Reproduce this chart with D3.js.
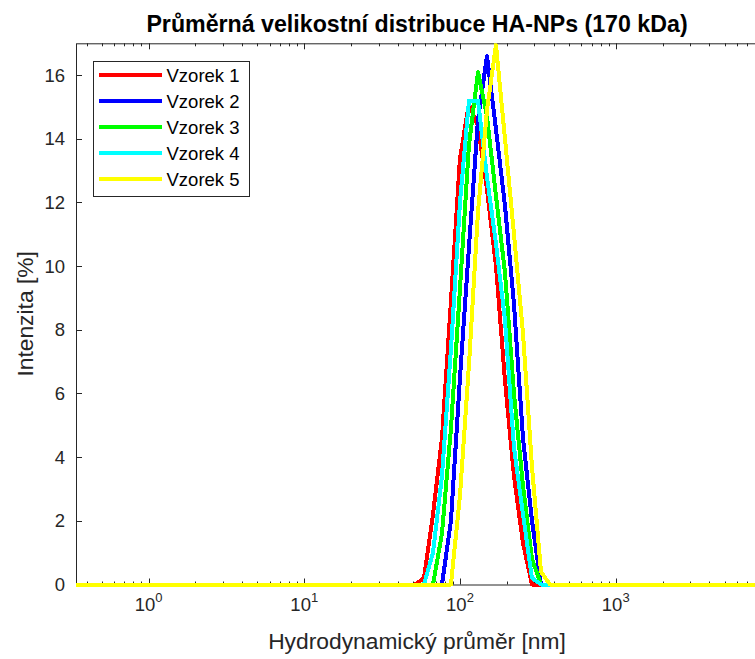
<!DOCTYPE html>
<html>
<head>
<meta charset="utf-8">
<script src="https://cdn.jsdelivr.net/npm/d3@7/dist/d3.min.js"></script>
<style>
	body { margin: 0; background: #fff; }
	svg { font-family: "Liberation Sans", Arial, Helvetica, sans-serif; }
</style>
</head>
<body>
<div id="chart"></div>
<script>
// hydrodynamic diameter [nm]
var sizes = [0.342, 51.4, 58.7, 67.1, 76.6, 87.5, 100, 114.2, 130.5, 149.1, 170.3, 194.5, 222.2, 253.8, 290.0, 331.3, 378.4, 8200];

// intensity [%] per sample
var vzorek1 = [0, 0, 0.2, 2.2, 4.6, 8.9, 13.4, 15.1, 14.4, 12.4, 10.0, 6.4, 3.4, 1.3, 0, 0, 0, 0];
var vzorek2 = [0, 0, 0, 0, 0, 2.0, 6.5, 10.6, 14.6, 16.6, 14.3, 11.9, 8.8, 4.6, 2.0, 0, 0, 0];
var vzorek3 = [0, 0, 0, 0, 1.6, 4.9, 9.3, 13.8, 16.1, 14.7, 12.2, 9.8, 6.0, 3.1, 0.8, 0, 0, 0];
var vzorek4 = [0, 0, 0, 1.0, 3.4, 7.4, 12.0, 15.2, 15.2, 12.8, 10.7, 8.3, 4.3, 2.2, 0.2, 0, 0, 0];
var vzorek5 = [0, 0, 0, 0, 0, 0, 2.8, 6.9, 11.7, 14.9, 16.95, 14.0, 11.0, 7.9, 3.7, 0.4, 0, 0];

var seriesNames = ["Vzorek 1", "Vzorek 2", "Vzorek 3", "Vzorek 4", "Vzorek 5"];
var seriesValues = [vzorek1, vzorek2, vzorek3, vzorek4, vzorek5];
var seriesColors = ["#ff0000", "#0000ff", "#00ff00", "#00ffff", "#ffff00"];

var xMajorTicks = [1, 10, 100, 1000];
var xTickExponents = ["0", "1", "2", "3"];
var yTicks = [0, 2, 4, 6, 8, 10, 12, 14, 16];

var xDomain = [0.342, 8200];
var yDomain = [0, 17];

var titleText = "Průměrná velikostní distribuce HA-NPs (170 kDa)";
var xLabelText = "Hydrodynamický průměr [nm]";
var yLabelText = "Intenzita [%]";

(function () {
	var width = 755, height = 659;
	var pLeft = 76, pTop = 43.3, pRight = 758, pBottom = 584.5;
	var axisColor = "#262626";

	var svg = d3.select("#chart")
		.append("svg")
		.attr("width", width)
		.attr("height", height);

	var x = d3.scaleLog().domain(xDomain).range([pLeft, pRight]);
	var y = d3.scaleLinear().domain(yDomain).range([pBottom, pTop]);

	// lines may spill past the bottom edge by their own width, like MATLAB
	svg.append("defs").append("clipPath")
		.attr("id", "plot-clip")
		.append("rect")
		.attr("x", pLeft)
		.attr("y", pTop)
		.attr("width", pRight - pLeft)
		.attr("height", pBottom - pTop + 3);

	// axes box
	svg.append("rect")
		.attr("x", pLeft + 0.5)
		.attr("y", pTop + 0.5)
		.attr("width", pRight - pLeft)
		.attr("height", pBottom - pTop)
		.attr("fill", "none")
		.attr("stroke", axisColor)
		.attr("stroke-width", 1);

	// x ticks, MATLAB style: inward, on bottom and top
	var allX = x.ticks().filter(function (d) { return d >= xDomain[0] && d <= xDomain[1]; });
	allX.forEach(function (d) {
		var major = xMajorTicks.indexOf(d) >= 0;
		var len = major ? 6 : 3;
		var px = Math.round(x(d)) + 0.5;
		svg.append("line")
			.attr("x1", px).attr("x2", px)
			.attr("y1", pBottom).attr("y2", pBottom - len)
			.attr("stroke", axisColor).attr("stroke-width", 1);
		svg.append("line")
			.attr("x1", px).attr("x2", px)
			.attr("y1", pTop).attr("y2", pTop + len)
			.attr("stroke", axisColor).attr("stroke-width", 1);
	});

	xMajorTicks.forEach(function (d, i) {
		var t = svg.append("text")
			.attr("x", x(d))
			.attr("y", 611)
			.attr("text-anchor", "middle")
			.attr("fill", axisColor)
			.attr("font-size", "18.5px")
			.text("10");
		t.append("tspan")
			.attr("dy", -9)
			.attr("font-size", "13px")
			.text(xTickExponents[i]);
	});

	yTicks.forEach(function (d) {
		var py = Math.round(y(d)) + 0.5;
		svg.append("line")
			.attr("x1", pLeft).attr("x2", pLeft + 6)
			.attr("y1", py).attr("y2", py)
			.attr("stroke", axisColor).attr("stroke-width", 1);
		svg.append("text")
			.attr("x", 65)
			.attr("y", y(d) + 6.6)
			.attr("text-anchor", "end")
			.attr("fill", axisColor)
			.attr("font-size", "18.5px")
			.text(d);
	});

	// curves
	var line = d3.line()
		.x(function (d) { return x(d[0]); })
		.y(function (d) { return y(d[1]); });

	var plot = svg.append("g").attr("clip-path", "url(#plot-clip)");
	seriesValues.forEach(function (vals, i) {
		plot.append("path")
			.datum(d3.zip(sizes, vals))
			.attr("d", line)
			.attr("fill", "none")
			.attr("stroke", seriesColors[i])
			.attr("stroke-width", 4)
			.attr("stroke-linejoin", "round")
			.attr("shape-rendering", "crispEdges");
	});

	// legend
	var legend = svg.append("g");
	legend.append("rect")
		.attr("x", 93.5)
		.attr("y", 61.5)
		.attr("width", 156)
		.attr("height", 135)
		.attr("fill", "#fff")
		.attr("stroke", axisColor)
		.attr("stroke-width", 1);
	seriesNames.forEach(function (name, i) {
		var ry = 75.3 + i * 25.9;
		legend.append("line")
			.attr("x1", 99).attr("x2", 162)
			.attr("y1", ry).attr("y2", ry)
			.attr("stroke", seriesColors[i])
			.attr("stroke-width", 4)
			.attr("shape-rendering", "crispEdges");
		legend.append("text")
			.attr("x", 166.5)
			.attr("y", ry + 6.6)
			.attr("fill", "#000")
			.attr("font-size", "18.5px")
			.text(name);
	});

	// title and axis labels
	svg.append("text")
		.attr("x", (pLeft + pRight) / 2)
		.attr("y", 32)
		.attr("text-anchor", "middle")
		.attr("font-weight", "bold")
		.attr("font-size", "23.2px")
		.attr("fill", "#000")
		.text(titleText);

	svg.append("text")
		.attr("x", (pLeft + pRight) / 2)
		.attr("y", 649)
		.attr("text-anchor", "middle")
		.attr("font-size", "22.8px")
		.attr("fill", axisColor)
		.text(xLabelText);

	svg.append("text")
		.attr("transform", "translate(33," + ((pTop + pBottom) / 2) + ") rotate(-90)")
		.attr("text-anchor", "middle")
		.attr("font-size", "22.8px")
		.attr("fill", axisColor)
		.text(yLabelText);
})();
</script>
</body>
</html>
